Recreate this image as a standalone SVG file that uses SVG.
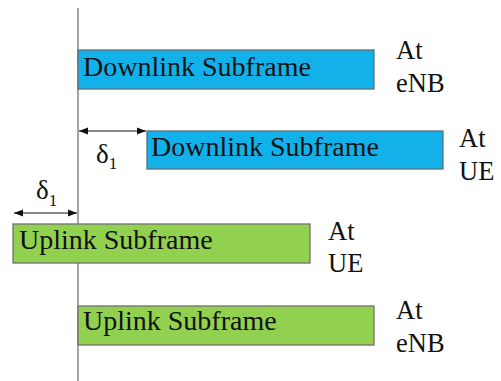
<svg xmlns="http://www.w3.org/2000/svg" width="501" height="381" viewBox="0 0 501 381">
<style>
.box-dl{fill:#12B1EA;stroke:#5E6E78;stroke-width:1.3}
.box-ul{fill:#92D050;stroke:#707070;stroke-width:1.3}
text{font-family:'Liberation Serif','Times New Roman',serif;fill:#111}
.bt{font-size:28px}
.lb{font-size:26.5px}
.d{font-size:27px}
.s{font-size:17px}
.arr{stroke:#111;stroke-width:1.2;fill:none;marker-start:url(#ah);marker-end:url(#ah)}
</style>
<defs>
<marker id="ah" viewBox="0 0 10 10" refX="10" refY="5" markerWidth="9" markerHeight="9" markerUnits="userSpaceOnUse" orient="auto-start-reverse">
<path d="M0,1 L10,5 L0,9 Z" fill="#111"/>
</marker>
</defs>
<rect width="501" height="381" fill="#fff"/>
<line x1="78" y1="8" x2="78" y2="381" stroke="#9A9A9A" stroke-width="1.8"/>
<g id="dl-enb">
<rect class="box-dl" x="78" y="50" width="296" height="39"/>
<text class="bt" x="83" y="76">Downlink Subframe</text>
<text class="lb" x="396" y="59">At</text>
<text class="lb" x="396" y="92">eNB</text>
</g>
<g id="dl-ue">
<rect class="box-dl" x="147" y="131" width="296" height="38"/>
<text class="bt" x="151" y="156">Downlink Subframe</text>
<text class="lb" x="459" y="147">At</text>
<text class="lb" x="459" y="180">UE</text>
</g>
<g id="ul-ue">
<rect class="box-ul" x="13" y="224" width="297" height="39"/>
<text class="bt" x="19" y="249">Uplink Subframe</text>
<text class="lb" x="328" y="240">At</text>
<text class="lb" x="328" y="272">UE</text>
</g>
<g id="ul-enb">
<rect class="box-ul" x="78" y="306" width="296" height="39"/>
<text class="bt" x="83" y="330">Uplink Subframe</text>
<text class="lb" x="396" y="319">At</text>
<text class="lb" x="396" y="352">eNB</text>
</g>
<g id="connectors">
<line class="arr" x1="79" y1="131" x2="146" y2="131"/>
<line class="arr" x1="14" y1="213" x2="77" y2="213"/>
<text class="d" x="96" y="163">δ<tspan class="s" dy="6">1</tspan></text>
<text class="d" x="36" y="199">δ<tspan class="s" dy="7">1</tspan></text>
</g>
</svg>
